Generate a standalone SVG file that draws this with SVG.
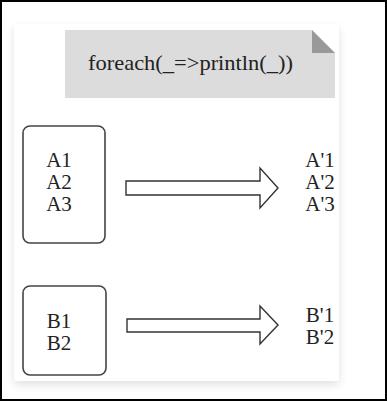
<svg xmlns="http://www.w3.org/2000/svg" width="387" height="401" viewBox="0 0 387 401">
<defs>
<filter id="sh" x="-10%" y="-10%" width="120%" height="125%">
<feGaussianBlur in="SourceAlpha" stdDeviation="5"/>
<feOffset dy="4"/>
<feComponentTransfer><feFuncA type="linear" slope="0.12"/></feComponentTransfer>
<feMerge><feMergeNode/><feMergeNode in="SourceGraphic"/></feMerge>
</filter>
</defs>
<style>
.t{font-family:"Liberation Serif","Times New Roman",serif;font-size:21px;fill:#222;text-anchor:middle}
.box{fill:#fff;stroke:#444;stroke-width:1.6}
.arr{fill:#fff;stroke:#333;stroke-width:1.4;stroke-linejoin:miter}
</style>
<rect x="0" y="0" width="387" height="401" fill="#fff"/>
<rect x="14" y="24" width="325" height="357" rx="3" fill="#fff" filter="url(#sh)"/>
<g id="note">
<path d="M65 30 H312 L335 53 V98 H65 Z" fill="#dcdcdc"/>
<path d="M312 30 V53 H335 Z" fill="#999"/>
<text x="190.5" y="70" class="t" font-size="20" textLength="205" lengthAdjust="spacingAndGlyphs">foreach(_=&gt;println(_))</text>
</g>
<g id="boxA">
<rect class="box" x="23" y="126" width="82" height="117" rx="7"/>
<text class="t" x="59" y="167">A1</text>
<text class="t" x="59" y="189">A2</text>
<text class="t" x="59" y="211">A3</text>
</g>
<g id="outA">
<text class="t" x="320" y="167">A'1</text>
<text class="t" x="320" y="189">A'2</text>
<text class="t" x="320" y="211">A'3</text>
</g>
<g id="boxB">
<rect class="box" x="23" y="286" width="83" height="89" rx="7"/>
<text class="t" x="59" y="328">B1</text>
<text class="t" x="59" y="350">B2</text>
</g>
<g id="outB">
<text class="t" x="320" y="322">B'1</text>
<text class="t" x="320" y="344">B'2</text>
</g>
<g id="connectors">
<path class="arr" d="M126 181 H260 V168 L278 188 L260 208 V195 H126 Z"/>
<path class="arr" d="M127 319 H260 V306 L278 325 L260 344 V332 H127 Z"/>
</g>
<rect x="1" y="1" width="385" height="399" fill="none" stroke="#000" stroke-width="2"/>
</svg>
